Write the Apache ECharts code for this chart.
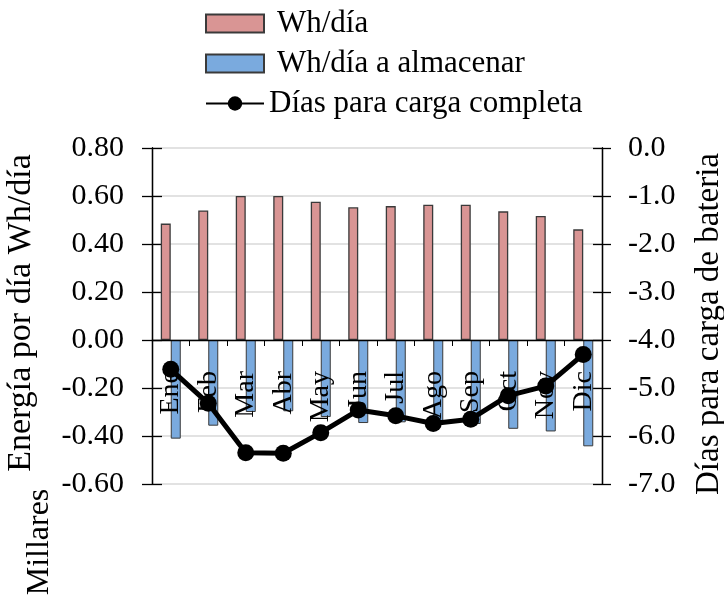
<!DOCTYPE html>
<html>
<head>
<meta charset="utf-8">
<script src="https://cdn.jsdelivr.net/npm/echarts@6/dist/echarts.min.js"></script>
<style>html,body{margin:0;padding:0;background:#fff;}#c{width:724px;height:596px;}</style>
</head>
<body>
<div id="c"></div>
<script>
const categories = ['Ene','Feb','Mar','Abr','May','Jun','Jul','Ago','Sep','Oct','Nov','Dic'];
const whDia = [0.485,0.54,0.60,0.60,0.576,0.553,0.558,0.564,0.564,0.536,0.517,0.461];
const whAlmacenar = [-0.411,-0.357,-0.30,-0.297,-0.321,-0.346,-0.343,-0.35,-0.35,-0.37,-0.381,-0.443];
const diasCarga = [-4.61,-5.32,-6.35,-6.36,-5.93,-5.46,-5.58,-5.74,-5.65,-5.16,-4.96,-4.30];
const leftTicks = {min:-0.6, max:0.8, interval:0.2};
const rightTicks = {min:-7, max:0, interval:1};
const leftTitle = 'Energía por día Wh/día';
const rightTitle = 'Días para carga de bateria';
const unitNote = 'Millares';

const FONTF = "'Liberation Serif','Times New Roman',serif";
const GRID = {left:152,right:122,top:148,bottom:112};
const plotH = 596 - GRID.top - GRID.bottom;
// shift the category axis up to the zero line of the left value axis
const zeroOffset = -plotH * (0 - leftTicks.min) / (leftTicks.max - leftTicks.min);

const chart = echarts.init(document.getElementById('c'));
const baseY = (extra) => Object.assign({type:'value', axisLine:{show:true,lineStyle:{color:'#000',width:1.3}}, splitLine:{show:false}}, extra);

chart.setOption({
  animation:false,
  textStyle:{fontFamily:FONTF,color:'#000'},
  grid:Object.assign({containLabel:false},GRID),
  legend:{
    orient:'vertical', left:205, top:8, padding:0, itemWidth:58, itemHeight:18, itemGap:9,
    textStyle:{fontFamily:FONTF,fontSize:31,color:'#000',lineHeight:31},
    data:[
      {name:'Wh/día', icon:'rect', textStyle:{padding:[0,0,0,8]}},
      {name:'Wh/día a almacenar', icon:'rect', textStyle:{padding:[0,0,0,8]}},
      {name:'Días para carga completa'}
    ]
  },
  xAxis:{
    type:'category', data:categories, offset:zeroOffset, z:3,
    axisLine:{onZero:false,lineStyle:{color:'#000',width:1.3}},
    axisTick:{show:true,length:6,lineStyle:{color:'#000'}},
    axisLabel:{rotate:90,margin:31,fontSize:28,fontFamily:FONTF,color:'#000'}
  },
  yAxis:[
    baseY({min:leftTicks.min,max:leftTicks.max,interval:leftTicks.interval,position:'left',
      axisTick:{show:true,length:10,lineStyle:{color:'#000',width:1.3}},
      axisLabel:{fontSize:30,fontFamily:FONTF,color:'#000',margin:28,formatter:v=>v.toFixed(2)},
      splitLine:{show:true,lineStyle:{color:'#d9d9d9',width:1.5}}}),
    baseY({min:rightTicks.min,max:rightTicks.max,interval:rightTicks.interval,position:'right',
      axisTick:{show:true,length:9,lineStyle:{color:'#000',width:1.3}},
      axisLabel:{fontSize:30,fontFamily:FONTF,color:'#000',margin:26,formatter:v=>v.toFixed(1)}}),
    baseY({min:leftTicks.min,max:leftTicks.max,interval:leftTicks.interval,position:'left',
      axisTick:{show:true,inside:true,length:10,lineStyle:{color:'#000',width:1.3}},
      axisLabel:{show:false}}),
    baseY({min:rightTicks.min,max:rightTicks.max,interval:rightTicks.interval,position:'right',
      axisTick:{show:true,inside:true,length:9,lineStyle:{color:'#000',width:1.3}},
      axisLabel:{show:false}})
  ],
  graphic:[
    {type:'text',x:21,y:313,rotation:Math.PI/2,
      style:{text:leftTitle,font:"34px "+FONTF,fill:'#000',align:'center',verticalAlign:'middle'}},
    {type:'text',x:709,y:324,rotation:Math.PI/2,
      style:{text:rightTitle,font:"33px "+FONTF,fill:'#000',align:'center',verticalAlign:'middle'}},
    {type:'text',x:40,y:542,rotation:Math.PI/2,
      style:{text:unitNote,font:"32px "+FONTF,fill:'#000',align:'center',verticalAlign:'middle'}}
  ],
  series:[
    {name:'Wh/día',type:'bar',yAxisIndex:0,data:whDia,barWidth:10,barGap:'0%',
      itemStyle:{color:'#d99594',borderColor:'#3a3a3a',borderWidth:1.3}},
    {name:'Wh/día a almacenar',type:'bar',yAxisIndex:0,data:whAlmacenar,barWidth:10,barGap:'0%',
      itemStyle:{color:'#7aaade',borderColor:'#3a3a3a',borderWidth:1}},
    {name:'Días para carga completa',type:'line',yAxisIndex:1,data:diasCarga,
      symbol:'circle',symbolSize:17,z:5,
      lineStyle:{color:'#000',width:5},itemStyle:{color:'#000'}}
  ]
});
</script>
</body>
</html>
